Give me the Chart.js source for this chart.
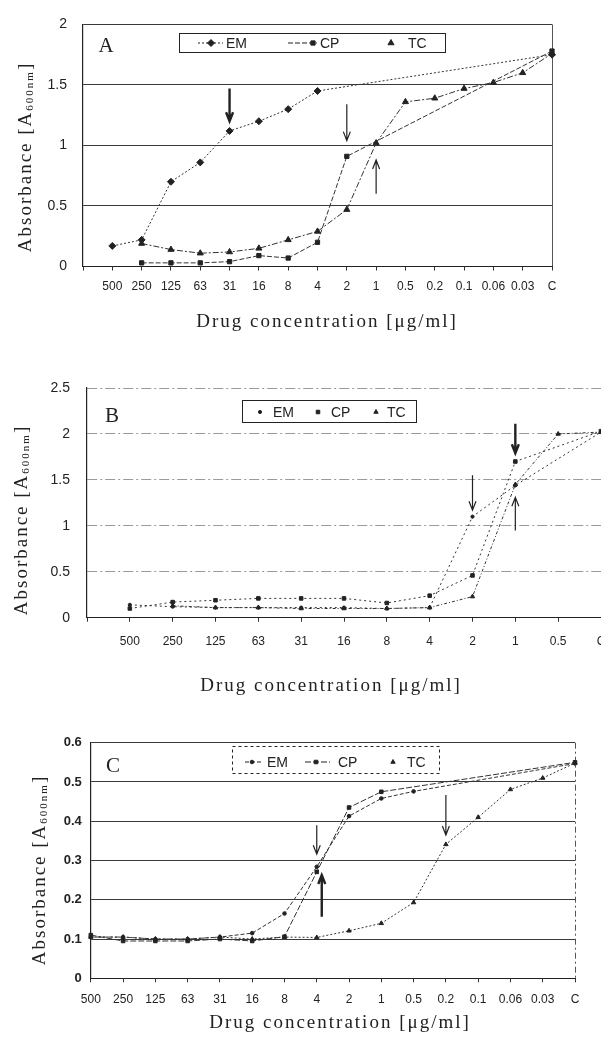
<!DOCTYPE html>
<html>
<head>
<meta charset="utf-8">
<script src="https://cdn.jsdelivr.net/npm/chart.js@4.4.0/dist/chart.umd.min.js"></script>
<style>
    html, body { margin: 0; padding: 0; background: #fff; width: 601px; height: 1039px; overflow: hidden; }
    .panel { position: absolute; left: 0; width: 601px; overflow: hidden; }
</style>
</head>
<body>
<div class="panel" style="top:0;height:340px"><canvas id="chart-a" width="601" height="340"></canvas></div>
<div class="panel" style="top:340px;height:360px"><canvas id="chart-b" width="620" height="360"></canvas></div>
<div class="panel" style="top:700px;height:339px"><canvas id="chart-c" width="601" height="339"></canvas></div>
<script>
const seriesNames = ['EM', 'CP', 'TC'];

// Panel A
const labelsA = ['', '500', '250', '125', '63', '31', '16', '8', '4', '2', '1', '0.5', '0.2', '0.1', '0.06', '0.03', 'C'];
const emA = [null, 0.17, 0.22, 0.70, 0.86, 1.12, 1.20, 1.30, 1.45, null, null, null, null, null, null, null, 1.75];
const cpA = [null, null, 0.03, 0.03, 0.03, 0.04, 0.09, 0.07, 0.20, 0.91, null, null, null, null, null, null, 1.78];
const tcA = [null, null, 0.19, 0.14, 0.11, 0.12, 0.15, 0.22, 0.29, 0.47, 1.02, 1.36, 1.39, 1.47, 1.52, 1.60, 1.76];
const yMaxA = 2, yStepA = 0.5;
const arrowAtA = ['31', '2', '1'];
const arrowFromA = [1.47, 1.34, 0.60];
const arrowToA = [1.20, 1.04, 0.88];

// Panel B
const labelsB = ['', '500', '250', '125', '63', '31', '16', '8', '4', '2', '1', '0.5', 'C'];
const emB = [null, 0.14, 0.12, 0.11, 0.11, 0.11, 0.11, 0.10, 0.11, 1.10, 1.44, null, 2.02];
const cpB = [null, 0.10, 0.17, 0.19, 0.21, 0.21, 0.21, 0.16, 0.24, 0.46, 1.70, null, 2.03];
const tcB = [null, null, 0.13, 0.11, 0.11, 0.10, 0.10, 0.10, 0.11, 0.23, 1.45, 2.00, 2.02];
const yMaxB = 2.5, yStepB = 0.5;
const arrowAtB = ['2', '1', '1'];
const arrowFromB = [1.55, 2.11, 0.95];
const arrowToB = [1.17, 1.79, 1.31];

// Panel C
const labelsC = ['500', '250', '125', '63', '31', '16', '8', '4', '2', '1', '0.5', '0.2', '0.1', '0.06', '0.03', 'C'];
const emC = [0.105, 0.105, 0.10, 0.10, 0.105, 0.115, 0.165, 0.284, 0.413, 0.458, 0.476, null, null, null, null, 0.547];
const cpC = [0.11, 0.095, 0.095, 0.095, 0.10, 0.095, 0.106, 0.271, 0.435, 0.475, null, null, null, null, null, 0.55];
const tcC = [0.105, 0.105, 0.10, 0.10, 0.105, 0.10, 0.105, 0.104, 0.121, 0.14, 0.193, 0.341, 0.41, 0.481, 0.51, 0.548];
const yMaxC = 0.6, yStepC = 0.1;
const arrowAtC = ['4', '4', '0.2'];
const arrowFromC = [0.39, 0.157, 0.467];
const arrowToC = [0.316, 0.263, 0.365];

const INK = '#222';
const SERIF = '"Liberation Serif", "DejaVu Serif", serif';
const SANS = '"Liberation Sans", Arial, sans-serif';

function drawArrow(ctx, x, y1, y2, bold) {
    const dir = y2 > y1 ? 1 : -1;
    ctx.save();
    ctx.strokeStyle = INK;
    ctx.lineWidth = bold ? 2.4 : 1.2;
    ctx.beginPath();
    ctx.moveTo(x, y1);
    ctx.lineTo(x, y2);
    ctx.moveTo(x - 3.5, y2 - dir * 9);
    ctx.lineTo(x, y2);
    ctx.lineTo(x + 3.5, y2 - dir * 9);
    ctx.stroke();
    ctx.restore();
}

function drawYTitle(ctx, cx, cy) {
    ctx.save();
    ctx.translate(cx, cy);
    ctx.rotate(-Math.PI / 2);
    ctx.fillStyle = INK;
    ctx.textBaseline = 'middle';
    ctx.textAlign = 'left';
    ctx.letterSpacing = '2px';
    const big = '19px ' + SERIF;
    const small = '11px ' + SERIF;
    const parts = [['Absorbance [A', big, 0], ['600nm', small, 4], [']', big, 0]];
    let total = 0;
    parts.forEach(p => { ctx.font = p[1]; total += ctx.measureText(p[0]).width; });
    let x0 = -total / 2;
    parts.forEach(p => {
        ctx.font = p[1];
        ctx.fillText(p[0], x0, p[2]);
        x0 += ctx.measureText(p[0]).width;
    });
    ctx.restore();
}

const decor = {
    id: 'decor',
    afterDraw(chart, args, opts) {
        const ctx = chart.ctx;
        const xs = chart.scales.x, ys = chart.scales.y;
        const labels = chart.data.labels;

        // arrows
        opts.arrows.at.forEach((lab, i) => {
            const px = xs.getPixelForValue(labels.indexOf(lab)) + (opts.arrows.dx[i] || 0);
            drawArrow(ctx, px, ys.getPixelForValue(opts.arrows.from[i]), ys.getPixelForValue(opts.arrows.to[i]), opts.arrows.bold[i]);
        });

        ctx.save();
        // panel letter
        ctx.fillStyle = INK;
        ctx.font = '21px ' + SERIF;
        ctx.textAlign = 'center';
        ctx.textBaseline = 'middle';
        ctx.fillText(opts.letter, opts.letterPos[0], opts.letterPos[1]);

        // x title
        ctx.font = '19px ' + SERIF;
        ctx.letterSpacing = '2px';
        ctx.fillText('Drug concentration [\u03bcg/ml]', opts.xTitle[0], opts.xTitle[1]);
        ctx.letterSpacing = '0px';
        ctx.restore();

        drawYTitle(ctx, opts.yTitle[0], opts.yTitle[1]);

        // legend
        const lg = opts.legend;
        ctx.save();
        ctx.strokeStyle = INK;
        ctx.lineWidth = 1;
        ctx.setLineDash(lg.dash || []);
        ctx.strokeRect(lg.box[0] + 0.5, lg.box[1] + 0.5, lg.box[2], lg.box[3]);
        ctx.setLineDash([]);
        ctx.font = '14px ' + SANS;
        ctx.textBaseline = 'middle';
        ctx.textAlign = 'left';
        chart.data.datasets.forEach((ds, i) => {
            const it = lg.items[i];
            if (it.line) {
                ctx.save();
                ctx.strokeStyle = INK;
                ctx.lineWidth = 1.2;
                ctx.setLineDash(ds.borderDash || []);
                ctx.beginPath();
                ctx.moveTo(it.line[0], lg.textY);
                ctx.lineTo(it.line[1], lg.textY);
                ctx.stroke();
                ctx.restore();
            }
            ctx.fillStyle = INK;
            ctx.strokeStyle = INK;
            Chart.helpers.drawPoint(ctx, { pointStyle: ds.pointStyle, radius: ds.pointRadius, rotation: 0, borderWidth: 1 }, it.mx, lg.textY);
            ctx.fillStyle = INK;
            ctx.fillText(ds.label, it.tx, lg.textY + 1);
        });
        ctx.restore();
    }
};

function makeChart(id, p) {
    const last = p.labels.length - 1;
    return new Chart(document.getElementById(id), {
        type: 'line',
        data: {
            labels: p.labels,
            datasets: p.series.map((data, i) => ({
                label: seriesNames[i],
                data: data,
                borderColor: '#333',
                borderWidth: 1,
                borderDash: p.dashes[i],
                pointStyle: p.points[i],
                pointRadius: p.radii[i],
                pointBackgroundColor: INK,
                pointBorderColor: INK,
                pointBorderWidth: 1,
                fill: false,
                spanGaps: true,
                tension: 0
            }))
        },
        options: {
            responsive: false,
            animation: false,
            devicePixelRatio: 1,
            layout: { padding: p.padding },
            scales: {
                x: {
                    type: 'category',
                    offset: false,
                    afterFit: s => { s.height = 40; },
                    grid: {
                        color: c => c.index === last ? p.frameColor : 'rgba(0,0,0,0)',
                        borderDash: p.frameDash,
                        tickColor: '#333',
                        tickLength: 4,
                        drawOnChartArea: true
                    },
                    border: { display: true, color: INK, width: 1, dash: p.axisDash },
                    ticks: {
                        autoSkip: false,
                        maxRotation: 0,
                        padding: p.xTickPad,
                        color: INK,
                        font: { family: SANS, size: 12 }
                    }
                },
                y: {
                    min: 0,
                    max: p.yMax,
                    afterFit: s => { s.width = 50; },
                    grid: {
                        color: p.gridColor,
                        lineWidth: 1,
                        borderDash: p.gridDash,
                        drawTicks: false
                    },
                    border: { display: true, color: INK, width: 1.2, dash: p.leftDash },
                    ticks: {
                        stepSize: p.yStep,
                        padding: p.yTickPad,
                        color: INK,
                        font: { family: SANS, size: p.yFont, weight: p.yWeight },
                        callback: v => String(Number(v.toFixed(2)))
                    }
                }
            },
            plugins: {
                legend: { display: false },
                tooltip: { enabled: false },
                decor: p.decor
            }
        },
        plugins: [decor]
    });
}

makeChart('chart-a', {
    labels: labelsA,
    series: [emA, cpA, tcA],
    yMax: yMaxA, yStep: yStepA,
    points: ['rectRot', 'rect', 'triangle'],
    radii: [3.5, 3, 3.5],
    dashes: [[2, 2], [5, 2], [6, 2, 2, 2]],
    padding: { left: 33, top: 17, right: 49, bottom: 33.5 },
    gridColor: '#3a3a3a',
    gridDash: [],
    frameColor: '#555',
    frameDash: [8, 3, 2, 3],
    axisDash: [],
    leftDash: [],
    xTickPad: 9,
    yTickPad: 16,
    yFont: 14, yWeight: 'normal',
    decor: {
        letter: 'A', letterPos: [106, 46],
        xTitle: [327, 322], yTitle: [26, 157],
        arrows: { at: arrowAtA, from: arrowFromA, to: arrowToA, bold: [true, false, false], dx: [0, 0, 0] },
        legend: {
            box: [179, 33, 266, 19], textY: 43,
            items: [{ line: [198, 223], mx: 211, tx: 226 }, { line: [288, 317], mx: 313, tx: 320 }, { line: null, mx: 391, tx: 408 }]
        }
    }
});

makeChart('chart-b', {
    labels: labelsB,
    series: [emB, cpB, tcB],
    yMax: yMaxB, yStep: yStepB,
    points: ['circle', 'rect', 'triangle'],
    radii: [1.6, 2.5, 2.5],
    dashes: [[2, 3], [2, 3], [3, 2, 1, 2]],
    padding: { left: 37, top: 48, right: 19, bottom: 42.3 },
    gridColor: '#9a9a9a',
    gridDash: [10, 4, 2, 4],
    frameColor: '#777',
    frameDash: [8, 3, 2, 3],
    axisDash: [10, 3, 2, 3],
    leftDash: [10, 3, 2, 3],
    xTickPad: 13,
    yTickPad: 17,
    yFont: 14, yWeight: 'normal',
    decor: {
        letter: 'B', letterPos: [112, 76],
        xTitle: [331, 346], yTitle: [22, 180],
        arrows: { at: arrowAtB, from: arrowFromB, to: arrowToB, bold: [false, true, false], dx: [0, 0, 0] },
        legend: {
            box: [242, 60, 174, 22], textY: 72,
            items: [{ line: null, mx: 260, tx: 273 }, { line: null, mx: 318, tx: 331 }, { line: null, mx: 376, tx: 387 }]
        }
    }
});

makeChart('chart-c', {
    labels: labelsC,
    series: [emC, cpC, tcC],
    yMax: yMaxC, yStep: yStepC,
    points: ['circle', 'rect', 'triangle'],
    radii: [1.8, 2.5, 2.5],
    dashes: [[4, 2], [6, 2], [2, 2]],
    padding: { left: 40.8, top: 42.7, right: 26, bottom: 20.7 },
    gridColor: '#3a3a3a',
    gridDash: [],
    frameColor: '#555',
    frameDash: [6, 3, 2, 3],
    axisDash: [6, 3, 2, 3],
    leftDash: [],
    xTickPad: 10,
    yTickPad: 9,
    yFont: 13, yWeight: 'bold',
    decor: {
        letter: 'C', letterPos: [113, 66],
        xTitle: [340, 323], yTitle: [40, 170],
        arrows: { at: arrowAtC, from: arrowFromC, to: arrowToC, bold: [false, true, false], dx: [0, 5, 0] },
        legend: {
            box: [232, 46, 207, 27], textY: 62, dash: [3, 3],
            items: [{ line: [245, 263], mx: 252, tx: 267 }, { line: [305, 330], mx: 316, tx: 338 }, { line: null, mx: 393, tx: 407 }]
        }
    }
});
</script>
</body>
</html>
